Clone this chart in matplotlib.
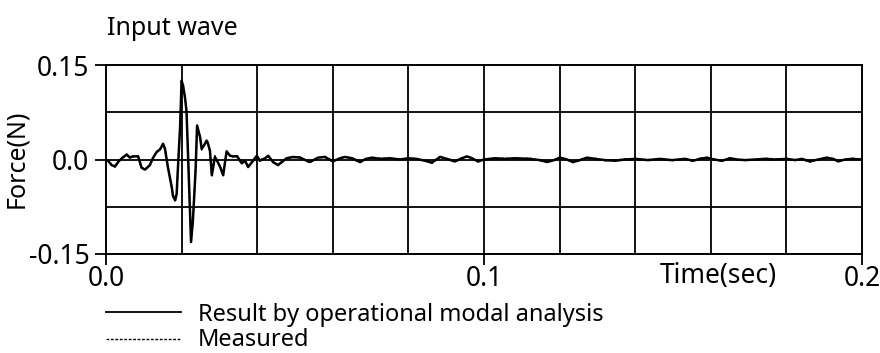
import matplotlib
matplotlib.use("Agg")
import matplotlib.pyplot as plt
from matplotlib.lines import Line2D
import numpy as np

plt.rcParams['font.family'] = ['Noto Sans', 'DejaVu Sans']

# Time samples (ms) and forces (N)
time_ms = [0.0, 0.53, 1.5, 2.4, 3.2, 4.2, 5.5, 6.3, 7.1, 8.5, 9.4, 10.3, 11.6, 12.4,
           13.4, 14.3, 15.1, 15.6, 16.4, 17.4, 17.7, 18.3, 18.7, 19.0, 19.6, 20.0,
           20.4, 20.9, 21.3, 21.7, 22.2, 22.5, 23.0, 23.7, 24.1, 24.9, 25.3, 25.9,
           26.6, 26.9, 27.5, 28.0, 28.8, 29.4, 30.2, 31.0, 31.9, 32.8, 33.6, 34.7,
           35.9, 36.8, 37.6, 38.9, 39.9, 40.7, 42.1, 42.9, 44.2, 45.5, 46.5, 47.8,
           49.5, 51.3, 53.9, 56.1, 57.9, 60.0, 61.9, 63.2, 65.1, 67.2, 68.8, 70.4,
           72.5, 75.1, 77.8, 79.9, 82.0, 84.4, 86.2, 88.4, 90.2, 92.3, 94.2, 95.5,
           96.8, 98.4, 100.0, 102.9, 105.6, 108.2, 112.2, 114.8, 116.7, 118.5, 120.1,
           122.0, 123.5, 125.4, 127.2, 129.4, 132.0, 134.7, 137.3, 140.2, 143.4,
           146.6, 149.7, 153.2, 155.3, 157.1, 159.0, 160.8, 163.0, 165.1, 167.0,
           169.0, 171.7, 174.3, 177.0, 180.2, 182.3, 184.1, 186.2, 188.4, 190.7,
           192.3, 193.7, 195.5, 197.4, 200.0]

result_oma = [0.0, -0.002, -0.009, -0.011, -0.004, 0.002, 0.008, 0.003, 0.005, 0.005,
              -0.013, -0.016, -0.009, 0.002, 0.012, 0.016, 0.025, 0.017, -0.013, -0.044,
              -0.057, -0.065, -0.054, -0.017, 0.051, 0.125, 0.117, 0.098, 0.077, 0.009,
              -0.081, -0.131, -0.096, -0.017, 0.054, 0.035, 0.017, 0.022, 0.030, 0.027,
              0.014, -0.025, 0.004, -0.002, -0.012, -0.025, 0.013, 0.006, 0.005, 0.005,
              -0.006, -0.002, -0.012, -0.002, 0.006, -0.002, 0.002, 0.006, -0.004, -0.009,
              -0.004, 0.002, 0.004, 0.003, -0.004, 0.003, 0.004, -0.003, 0.002, 0.004,
              0.002, -0.004, 0.001, 0.003, 0.001, 0.002, 0.000, 0.002, 0.001, -0.002,
              -0.005, 0.004, 0.001, -0.003, 0.002, 0.005, 0.002, -0.003, 0.000, 0.002,
              0.001, 0.002, 0.001, -0.001, -0.004, -0.001, 0.003, 0.000, -0.004, -0.001,
              0.003, 0.001, -0.001, -0.002, 0.000, 0.001, -0.001, 0.001, -0.001, 0.001,
              -0.002, 0.001, 0.003, 0.000, -0.002, 0.002, 0.000, -0.001, 0.000, 0.001,
              0.000, 0.001, -0.001, 0.001, -0.003, 0.000, 0.003, 0.001, -0.003, 0.000,
              0.001, 0.000]

measured = [0.0, -0.001, -0.008, -0.012, -0.005, 0.003, 0.007, 0.004, 0.004, 0.006,
            -0.012, -0.017, -0.008, 0.003, 0.011, 0.017, 0.024, 0.018, -0.012, -0.046,
            -0.060, -0.062, -0.056, -0.015, 0.053, 0.128, 0.114, 0.100, 0.075, 0.011,
            -0.083, -0.128, -0.098, -0.015, 0.052, 0.037, 0.015, 0.024, 0.028, 0.029,
            0.012, -0.027, 0.006, -0.003, -0.010, -0.023, 0.011, 0.007, 0.004, 0.006,
            -0.005, -0.003, -0.011, -0.001, 0.005, -0.001, 0.003, 0.005, -0.005, -0.008,
            -0.005, 0.003, 0.003, 0.004, -0.005, 0.002, 0.005, -0.002, 0.001, 0.005,
            0.001, -0.005, 0.002, 0.002, 0.002, 0.001, 0.001, 0.001, 0.002, -0.001,
            -0.006, 0.005, 0.000, -0.004, 0.003, 0.004, 0.003, -0.004, 0.001, 0.001,
            0.002, 0.001, 0.002, -0.002, -0.003, -0.002, 0.004, -0.001, -0.005, 0.000,
            0.002, 0.002, -0.002, -0.001, 0.001, 0.000, 0.000, 0.000, -0.002, 0.002,
            -0.003, 0.002, 0.002, 0.001, -0.003, 0.003, -0.001, 0.000, -0.001, 0.002,
            0.001, 0.000, 0.000, 0.000, -0.004, 0.001, 0.002, 0.002, -0.002, -0.001,
            0.002, 0.000]

x_ticks = [0.0, 0.1, 0.2]
x_tick_labels = ["0.0", "0.1", "0.2"]
y_ticks = [-0.15, 0.0, 0.15]
y_tick_labels = ["-0.15", "0.0", "0.15"]

W, H = 880, 353
fig = plt.figure(figsize=(W / 100, H / 100), dpi=100)
ax = fig.add_axes([106 / W, 1 - 254 / H, (862 - 106) / W, (254 - 65) / H])

t = np.array(time_ms) / 1000.0
ax.plot(t, measured, color='black', lw=1.0, ls=(0, (2, 1.5)), zorder=3)
ax.plot(t, result_oma, color='black', lw=1.8, zorder=4)

ax.set_xlim(0, 0.2)
ax.set_ylim(-0.15, 0.15)

# grid every 0.02 s and 0.075 N
for gx in np.arange(0.02, 0.2, 0.02):
    ax.axvline(gx, color='black', lw=1.3, zorder=1)
for gy in [-0.075, 0.0, 0.075]:
    ax.axhline(gy, color='black', lw=1.3, zorder=1)

for s in ax.spines.values():
    s.set_linewidth(1.4)
    s.set_color('black')

ax.set_xticks(x_ticks)
ax.set_xticklabels(x_tick_labels)
ax.set_yticks(y_ticks)
ax.set_yticklabels(y_tick_labels)
ax.tick_params(axis='both', direction='out', length=8, width=1.3, labelsize=19,
               colors='black')
ax.tick_params(axis='x', pad=0)
ax.tick_params(axis='y', pad=4)

fig.text(17 / W, 1 - 159 / H, "Force(N)", rotation=90, ha='center', va='center',
         fontsize=18)
fig.text(718 / W, 1 - 283 / H, "Time(sec)", ha='center', va='baseline', fontsize=19)

fig.text(107 / W, 1 - 35 / H, "Input wave", ha='left', va='baseline', fontsize=18)

# legend drawn below the axes
fig.add_artist(Line2D([106 / W, 181 / W], [1 - 312 / H, 1 - 312 / H],
                      transform=fig.transFigure, color='black', lw=1.3))
fig.add_artist(Line2D([106 / W, 181 / W], [1 - 339 / H, 1 - 339 / H],
                      transform=fig.transFigure, color='black', lw=1.0,
                      ls=(0, (2, 1.2))))
fig.text(198 / W, 1 - 321 / H, "Result by operational modal analysis",
         ha='left', va='baseline', fontsize=17)
fig.text(198 / W, 1 - 346 / H, "Measured", ha='left', va='baseline', fontsize=17)

fig.savefig("out.png", dpi=100)
